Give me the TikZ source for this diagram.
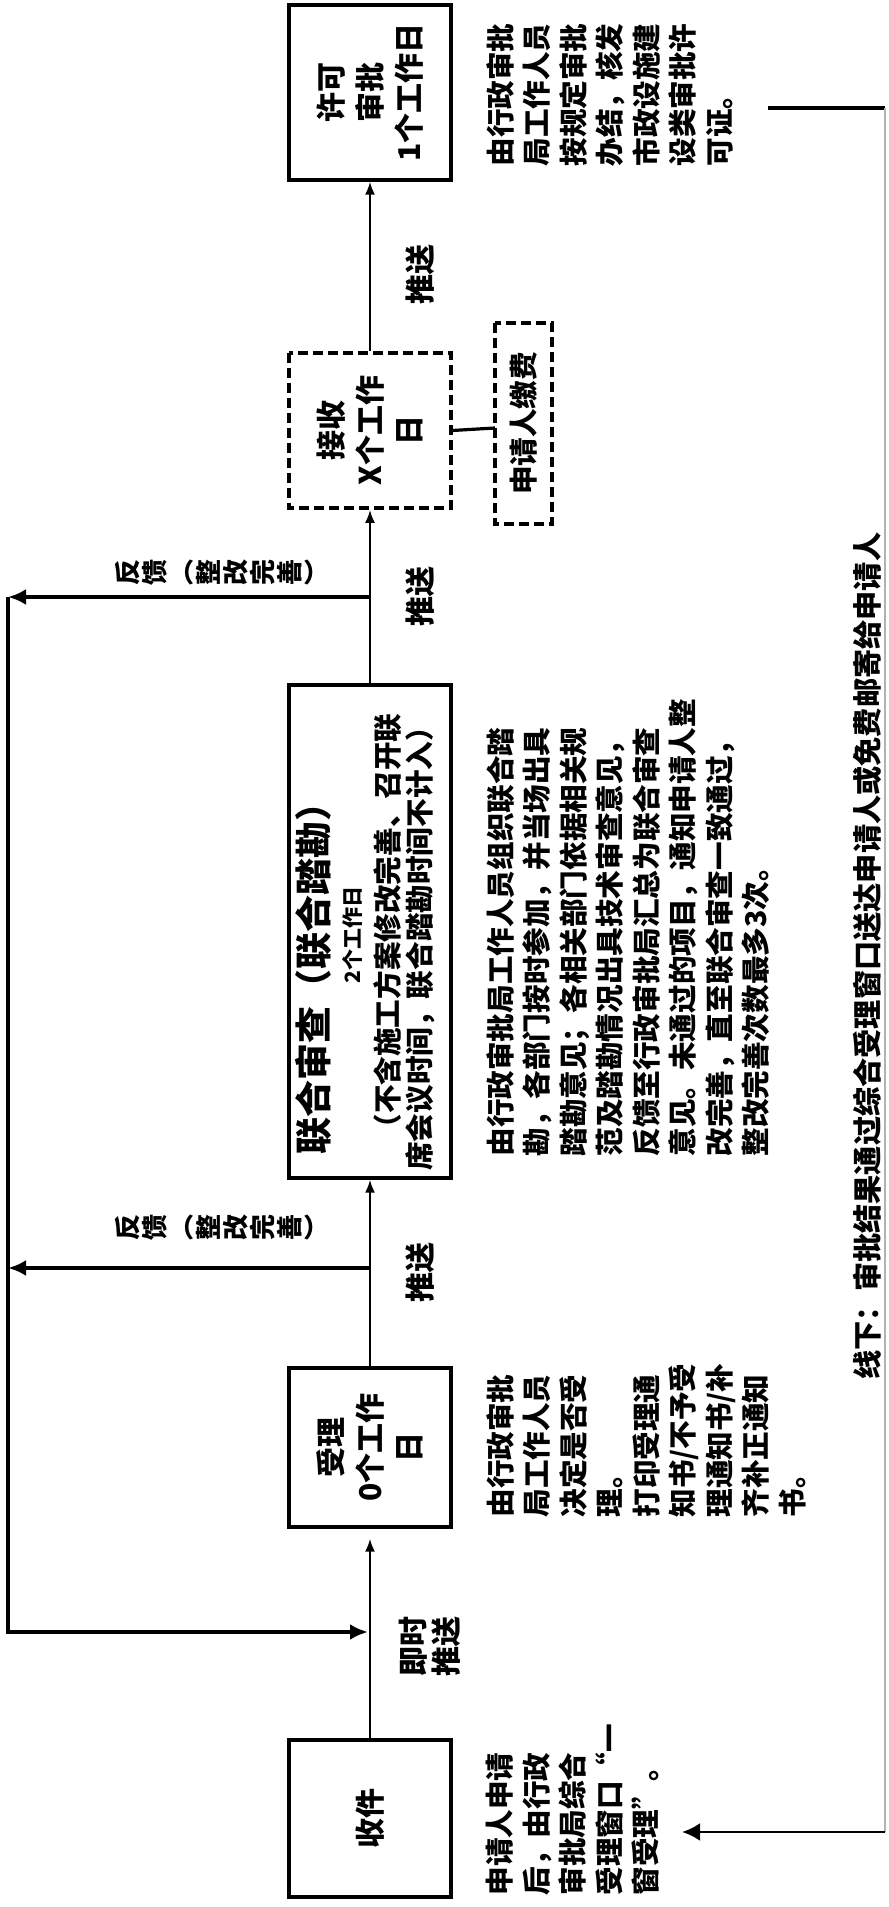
\documentclass[tikz,border=0pt]{standalone}
\usepackage{fontspec}
\setmainfont{Noto Sans CJK SC}
\usetikzlibrary{arrows.meta}
\newcommand\descfont{\bfseries\fontsize{14.3pt}{18.25pt}\selectfont}
\newcommand\titlefont{\bfseries\fontsize{15pt}{19.5pt}\selectfont}
\newcommand\labelfont{\bfseries\fontsize{15pt}{16.5pt}\selectfont}
\newcommand\fbfont{\bfseries\fontsize{13pt}{13.5pt}\selectfont}
\newcommand\boxsmall{\bfseries\fontsize{14.3pt}{16pt}\selectfont}
\begin{document}
\begin{tikzpicture}[x=0.5pt,y=0.5pt,
  box/.style={draw, line width=1.6pt, inner sep=0pt, align=center, font=\titlefont},
  dbox/.style={draw, line width=1.8pt, dash pattern=on 5pt off 2.5pt, inner sep=0pt, align=center, font=\titlefont},
  desc/.style={anchor=north west, inner sep=0pt, align=left, font=\descfont},
  flow/.style={line width=1.2pt, -{Latex[length=6.5pt,width=5pt]}},
  fb/.style={line width=1.8pt, -{Latex[length=9pt,width=8pt]}},
  lbl/.style={inner sep=0pt, align=center, font=\labelfont},
  plain/.style={inner sep=0pt}
]
\fill[white] (0,0) rectangle (889,1907);
\useasboundingbox (0,0) rectangle (889,1907);
\begin{scope}[rotate=90, transform shape]
% boxes
\node[box, minimum width=78.5pt, minimum height=81pt] (shoujian) at (88.5,-370) {收件};
\node[box, minimum width=79.5pt, minimum height=81pt] (shouli) at (459.5,-370) {受理\\0个工作\\日};
\node[box, minimum width=246.5pt, minimum height=81pt] (lianhe) at (975.5,-370) {};
\node[dbox, minimum width=77.5pt, minimum height=81pt] (jieshou) at (1476.5,-370) {接收\\X个工作\\日};
\node[box, minimum width=87.5pt, minimum height=81pt] (xuke) at (1814.5,-370) {许可\\审批\\1个工作日};
\node[dbox, minimum width=100.5pt, minimum height=28.5pt, font=\descfont] (jiaofei) at (1483.5,-523.5) {申请人缴费};
% text inside joint review box
\node[plain, font=\bfseries\fontsize{18.5pt}{20pt}\selectfont] (lh1) at (937,-313) {联合审查（联合踏勘）};
\node[plain, font=\bfseries\fontsize{10.5pt}{12pt}\selectfont] (lh2) at (972,-352) {2个工作日};
\node[plain, font=\boxsmall] (lh3) at (979,-388) {（不含施工方案修改完善、召开联};
\node[plain, font=\boxsmall] (lh4) at (965,-420) {席会议时间，联合踏勘时间不计入）};
% descriptions
\node[desc] (d1) at (11,-486) {申请人申请\\后，由行政\\审批局综合\\受理窗口“一\\窗受理”。};
\node[desc] (d2) at (389,-486) {由行政审批\\局工作人员\\决定是否受\\理。\\打印受理通\\知书/不予受\\理通知书/补\\齐补正通知\\书。};
\node[desc] (d3) at (750,-486) {由行政审批局工作人员组织联合踏\\勘，各部门按时参加，并当场出具\\踏勘意见；各相关部门依据相关规\\范及踏勘情况出具技术审查意见，\\反馈至行政审批局汇总为联合审查\\意见。未通过的项目，通知申请人整\\改完善，直至联合审查一致通过，\\整改完善次数最多3次。};
\node[desc] (d4) at (1740,-486) {由行政审批\\局工作人员\\按规定审批\\办结，核发\\市政设施建\\设类审批许\\可证。};
% flow labels
\node[lbl] (jsts) at (260,-430) {即时\\推送};
\node[lbl] (ts3) at (634,-420) {推送};
\node[lbl] (ts2) at (1310,-420) {推送};
\node[lbl] (ts1) at (1632,-420) {推送};
\node[lbl, font=\fbfont] (fk2) at (679,-221) {反\\馈\\︵\\整\\改\\完\\善\\︶};
\node[lbl, font=\fbfont] (fk1) at (1334,-221) {反\\馈\\︵\\整\\改\\完\\善\\︶};
\node[plain, anchor=west, font=\bfseries\fontsize{14.6pt}{16pt}\selectfont] (xx) at (527,-867) {线下：审批结果通过综合受理窗口送达申请人或免费邮寄给申请人};
% main flow
\draw[flow, shorten >=5pt] (shoujian.east) -- (shouli.west);
\draw[flow] (shouli.east) -- (lianhe.west);
\draw[flow] (lianhe.east) -- (jieshou.west);
\draw[flow] (jieshou.east) -- (xuke.west);
\coordinate (jfL) at (1479,-495);
\draw[line width=1.6pt] (jieshou.south) -- (jfL);
% feedback loop
\coordinate (fbA) at (1310,-370);
\coordinate (fbB) at (639,-370);
\coordinate (busTop) at (1310,-8);
\coordinate (busMid) at (639,-8);
\coordinate (busBot) at (275,-8);
\coordinate (ret) at (275,-368);
\draw[fb] (fbA) -- (busTop);
\draw[fb] (fbB) -- (busMid);
\draw[fb] (busTop) -- (busBot) -- (ret);
% offline delivery line
\coordinate (r1) at (1799,-768);
\coordinate (r2) at (1799,-885);
\coordinate (r3) at (75,-885);
\coordinate (r4) at (75,-682);
\draw[line width=1.6pt] (r1) -- (r2);
\draw[line width=0.6pt, gray!60] (r2) -- (r3);
\draw[line width=1.4pt, -{Latex[length=9pt,width=9pt]}] (r3) -- (r4);
\end{scope}
\end{tikzpicture}
\end{document}
